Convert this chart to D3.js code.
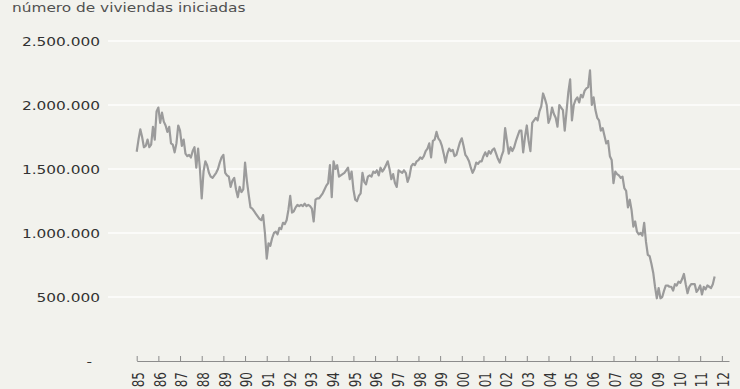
<!DOCTYPE html>
<html>
<head>
<meta charset="utf-8">
<script src="https://cdn.jsdelivr.net/npm/d3@7"></script>
<style>
  html, body { margin: 0; padding: 0; background: #f2f2ed; }
  svg { display: block; }
  text { font-family: "DejaVu Sans", Verdana, sans-serif; }
</style>
</head>
<body>
<div id="chart"></div>
<script>
// Housing starts per month (thousands), Jan 1985 .. Sep 2011
const starts = [
  1635, 1730, 1810, 1750, 1670, 1680, 1730, 1670, 1690, 1830, 1730, 1950, // 1985
  1980, 1860, 1940, 1870, 1840, 1790, 1830, 1700, 1690, 1630, 1700, 1840, // 1986
  1800, 1680, 1730, 1620, 1600, 1610, 1590, 1640, 1670, 1510, 1660, 1500, // 1987
  1270, 1480, 1560, 1530, 1470, 1440, 1430, 1450, 1470, 1500, 1550, 1590, // 1988
  1610, 1470, 1450, 1440, 1360, 1410, 1430, 1340, 1280, 1360, 1320, 1340, // 1989
  1550, 1410, 1300, 1200, 1190, 1170, 1150, 1130, 1110, 1100, 1140, 1000, // 1990
   800,  920,  900,  960, 1000, 1010,  990, 1040, 1030, 1080, 1070, 1100, // 1991
  1180, 1290, 1160, 1170, 1200, 1220, 1210, 1220, 1210, 1230, 1210, 1220, // 1992
  1210, 1190, 1090, 1260, 1270, 1270, 1290, 1310, 1340, 1370, 1390, 1530, // 1993
  1280, 1560, 1500, 1530, 1440, 1450, 1460, 1470, 1490, 1510, 1420, 1480, // 1994
  1340, 1260, 1250, 1290, 1310, 1470, 1400, 1380, 1440, 1450, 1440, 1480, // 1995
  1470, 1490, 1450, 1510, 1480, 1500, 1530, 1560, 1500, 1420, 1460, 1390, // 1996
  1360, 1490, 1480, 1470, 1490, 1470, 1400, 1440, 1520, 1540, 1530, 1560, // 1997
  1570, 1590, 1580, 1600, 1640, 1660, 1700, 1590, 1720, 1730, 1790, 1740, // 1998
  1720, 1680, 1620, 1550, 1620, 1660, 1640, 1650, 1600, 1610, 1660, 1710, // 1999
  1740, 1680, 1610, 1590, 1560, 1510, 1470, 1500, 1550, 1540, 1560, 1560, // 2000
  1600, 1630, 1600, 1640, 1620, 1650, 1660, 1620, 1580, 1550, 1600, 1640, // 2001
  1820, 1720, 1620, 1670, 1640, 1670, 1720, 1760, 1800, 1800, 1630, 1750, // 2002
  1840, 1720, 1640, 1860, 1880, 1900, 1880, 1950, 1990, 2090, 2050, 2000, // 2003
  1860, 1900, 1980, 1930, 1900, 1830, 2000, 1980, 1960, 1800, 1950, 2100, // 2004
  2200, 1880, 2000, 2040, 2060, 2020, 2080, 2060, 2110, 2130, 2140, 2270, // 2005
  2000, 2060, 1960, 1900, 1880, 1800, 1820, 1760, 1700, 1720, 1600, 1570, // 2006
  1390, 1480, 1460, 1450, 1430, 1440, 1350, 1330, 1200, 1260, 1180, 1050, // 2007
  1090, 1010,  990, 1000,  980, 1080,  930,  830,  820,  760,  690,  580, // 2008
   490,  570,  490,  500,  550,  590,  590,  580,  580,  550,  600,  590, // 2009
   620,  610,  640,  680,  600,  530,  580,  600,  600,  600,  540,  560, // 2010
   590,  520,  580,  560,  590,  580,  570,  600,  660                     // 2011
];
const firstYear = 1985;
const yearTicks = [1985, 1986, 1987, 1988, 1989, 1990, 1991, 1992, 1993, 1994,
  1995, 1996, 1997, 1998, 1999, 2000, 2001, 2002, 2003, 2004, 2005, 2006,
  2007, 2008, 2009, 2010, 2011, 2012];
const yearLabels = ["85", "86", "87", "88", "89", "90", "91", "92", "93", "94",
  "95", "96", "97", "98", "99", "00", "01", "02", "03", "04", "05", "06",
  "07", "08", "09", "10", "11", "12"];
const valueTicks = [0, 500000, 1000000, 1500000, 2000000, 2500000];
const title = "número de viviendas iniciadas";

const width = 740;
const height = 389;
const stretch = 1.28; // text in the original is drawn a bit wide

const svg = d3.select("#chart")
  .append("svg")
  .attr("width", width)
  .attr("height", height);

svg.append("rect")
  .attr("width", width)
  .attr("height", height)
  .attr("fill", "#f2f2ed");

const x = d3.scaleLinear()
  .domain([1985, 2012.33])
  .range([136.7, 729]);

const y = d3.scaleLinear()
  .domain([0, 2500000])
  .range([361, 41]);

// faint gridlines
svg.append("g")
  .selectAll("line")
  .data(valueTicks.slice(1))
  .join("line")
  .attr("x1", 108)
  .attr("x2", width)
  .attr("y1", d => y(d))
  .attr("y2", d => y(d))
  .attr("stroke", "#fbfbf9")
  .attr("stroke-width", 2);

// Y axis (labels only)
const fmt = d => d === 0 ? "-" : d3.format(",")(d).replace(/,/g, ".");
const yAxis = svg.append("g")
  .attr("transform", "translate(100,0)")
  .call(d3.axisLeft(y).tickValues(valueTicks).tickSize(0).tickPadding(0).tickFormat(fmt));
yAxis.select(".domain").remove();
yAxis.selectAll("text")
  .attr("x", null)
  .attr("dy", "0.35em")
  .attr("font-size", 12)
  .attr("font-family", null)
  .attr("fill", "#333")
  .attr("transform", d => `translate(${d === 0 ? -8 : 0},0) scale(${stretch},1)`);

// X axis
const xAxis = svg.append("g")
  .attr("transform", `translate(0,${y(0)})`)
  .call(d3.axisBottom(x)
    .tickValues(yearTicks)
    .tickSize(-5)
    .tickSizeOuter(0)
    .tickFormat(d => yearLabels[yearTicks.indexOf(d)]));
xAxis.select(".domain").attr("stroke", "#8c8c8c");
xAxis.selectAll(".tick line").attr("stroke", "#8c8c8c");
xAxis.selectAll("text")
  .attr("y", null)
  .attr("dy", "0.35em")
  .attr("text-anchor", "end")
  .attr("font-size", 12)
  .attr("font-family", null)
  .attr("fill", "#333")
  .attr("transform", `translate(1.3,11) scale(${stretch},1) rotate(-90)`);

// series line
const line = d3.line()
  .x((d, i) => x(firstYear + i / 12))
  .y(d => y(d * 1000));

svg.append("path")
  .datum(starts)
  .attr("d", line)
  .attr("fill", "none")
  .attr("stroke", "#9b9b9b")
  .attr("stroke-width", 2.2)
  .attr("stroke-linejoin", "round");

// title
svg.append("text")
  .attr("transform", `translate(12,12) scale(${stretch},1)`)
  .attr("font-size", 12)
  .attr("fill", "#505050")
  .text(title);
</script>
</body>
</html>
